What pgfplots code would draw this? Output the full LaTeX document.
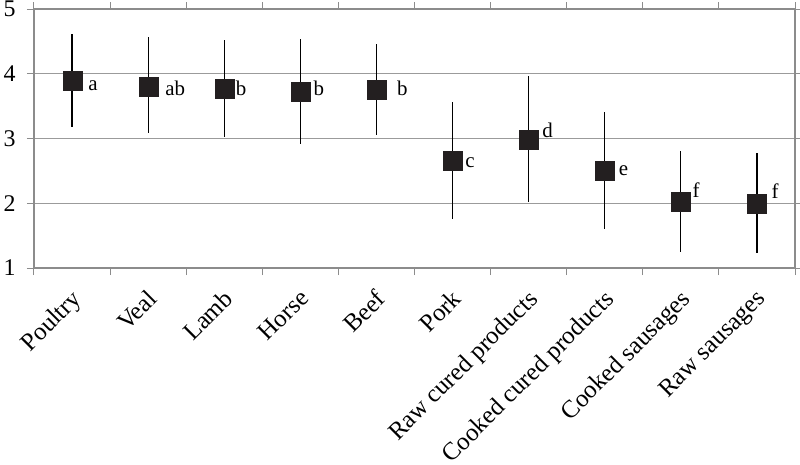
\documentclass[border=0pt]{standalone}
\usepackage{fontspec}
\setmainfont{Liberation Serif}
\usepackage{pgfplots}
\pgfplotsset{compat=1.18}
\usepackage{pgfplotstable}
\definecolor{framec}{RGB}{140,140,140}
\definecolor{gridc}{RGB}{155,155,155}
\definecolor{mk}{RGB}{35,31,32}

\pgfplotstableread{
x y ep em lab dx dy
0 3.89 0.73 0.72 a  16 -9.5
1 3.81 0.75 0.73 ab 17 -9.5
2 3.77 0.75 0.75 b  11.5 -7
3 3.72 0.82 0.81 b  13 -3.5
4 3.75 0.71 0.70 b  20.5 -5.5
5 2.66 0.90 0.91 c  12.5 -7
6 2.99 0.98 0.97 d  13.5 2
7 2.50 0.91 0.90 e  14 -4.5
8 2.02 0.79 0.77 f  11.5 4
9 2.00 0.78 0.77 f  14.5 5
}\data

\begin{document}
\begin{tikzpicture}
\useasboundingbox (-34bp,-197bp) rectangle (766bp,268bp);
\begin{axis}[
  scale only axis, width=761bp, height=259bp,
  at={(0,0)}, anchor=south west,
  xmin=-0.5, xmax=9.5, ymin=1, ymax=5,
  ytick={1,2,3,4,5},
  xtick={0,...,9},
  xticklabels={Poultry, Veal, Lamb, Horse, Beef, Pork, Raw cured products, Cooked cured products, Cooked sausages, Raw sausages},
  minor xtick={-0.5,0.5,...,9.5},
  every major x tick/.append style={draw=none},
  tick align=outside, major tick length=7bp, minor tick length=7bp,
  ymajorgrids, grid style={gridc, line width=1bp},
  axis line style={framec, line width=1.3bp},
  every tick/.append style={framec, line width=1bp},
  /pgf/number format/assume math mode=true,
  yticklabel style={font=\fontsize{24}{26}\selectfont, xshift=-8bp},
  xticklabel style={xshift=-2bp, yshift=-13bp, rotate=45, anchor=north east, inner sep=0pt, font=\fontsize{25}{27}\selectfont},
  clip=false,
]
\addplot[only marks, mark=square*, mark size=9.5bp, mark options={fill=mk, draw=mk, line width=0.1pt},
  error bars/.cd, y dir=both, y explicit, error mark=none,
  error bar style={line width=1.2bp, black}]
  table[x=x, y=y, y error plus=ep, y error minus=em] {\data};
\addplot[only marks, mark=none, point meta=explicit symbolic,
  visualization depends on={\thisrow{dx} \as \dx},
  visualization depends on={\thisrow{dy} \as \dy},
  nodes near coords,
  nodes near coords style={anchor=base west, inner sep=0pt, xshift=\dx bp, yshift=\dy bp, font=\fontsize{21}{23}\selectfont, text=black}]
  table[x=x, y=y, meta=lab] {\data};
\end{axis}
\end{tikzpicture}
\end{document}
